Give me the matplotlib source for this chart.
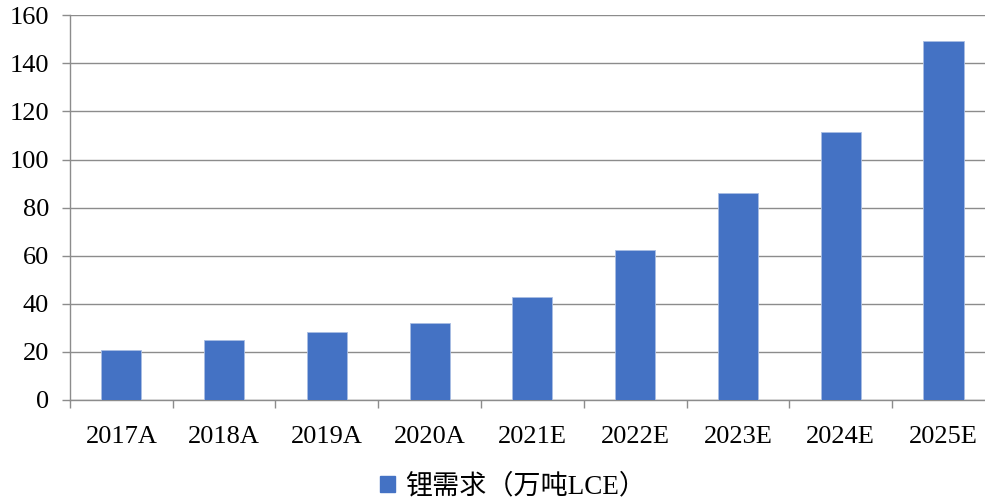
import matplotlib
matplotlib.use("Agg")
import matplotlib.pyplot as plt
from matplotlib.patches import Patch

years = ['2017A', '2018A', '2019A', '2020A', '2021E', '2022E', '2023E', '2024E', '2025E']
demand = [20.8, 24.8, 28.3, 32.2, 42.9, 62.2, 86.0, 111.4, 149.3]
series_name = '锂需求（万吨LCE）'

plt.rcParams['font.family'] = ['Liberation Serif', 'Noto Sans CJK SC']

fig = plt.figure(figsize=(9.85, 5.01), dpi=100)
# the original chart is cut off a little on the right
ax = fig.add_axes([0.071, 0.2016, 0.939, 0.768])

grid_color = '#8c8c8c'
x = list(range(len(years)))
ax.bar(x, demand, width=0.39, color='#4472C4', edgecolor='#a9bde3', linewidth=0.6, zorder=3)

ax.set_xlim(-0.5, len(years) - 0.5)
ax.set_ylim(0, 160)
ax.set_yticks(range(0, 161, 20))
# category boundaries get the tick marks, labels sit in the middle
ax.set_xticks([i - 0.5 for i in range(len(years) + 1)], minor=False)
ax.set_xticklabels([])
ax.set_xticks(x, minor=True)
ax.set_xticklabels(years, minor=True)

ax.yaxis.grid(True, color=grid_color, linewidth=1.0, zorder=0)
for s in ['top', 'right']:
    ax.spines[s].set_visible(False)
for s in ['left', 'bottom']:
    ax.spines[s].set_color(grid_color)
    ax.spines[s].set_linewidth(1.0)

ax.tick_params(axis='y', which='major', length=6, width=1.0, color=grid_color, pad=9, labelsize=19)
ax.tick_params(axis='x', which='major', length=6, width=1.0, color=grid_color, direction='out')
ax.tick_params(axis='x', which='minor', length=0, pad=18.5, labelsize=19)

handle = Patch(facecolor='#4472C4', edgecolor='#4472C4')
fig.legend([handle], [series_name], loc='center', bbox_to_anchor=(0.521, 0.028),
           frameon=False, fontsize=19.5, handlelength=0.55, handleheight=0.55,
           handletextpad=0.4, borderpad=0)

fig.savefig('out.png', dpi=100)
